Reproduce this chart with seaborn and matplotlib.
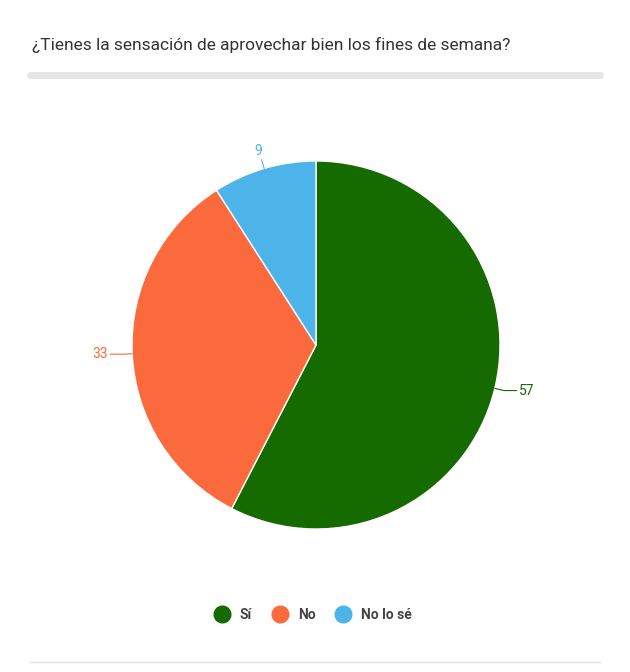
import matplotlib.pyplot as plt
import seaborn as sns
import numpy as np
from matplotlib.lines import Line2D

sns.set_theme(style="white")
plt.rcParams['font.family'] = ['Roboto', 'DejaVu Sans']

title = "¿Tienes la sensación de aprovechar bien los fines de semana?"
labels = ["Sí", "No", "No lo sé"]
values = [57, 33, 9]
colors = ["#156a00", "#fb6a3c", "#4db4ea"]

fig = plt.figure(figsize=(6.3, 6.72), dpi=100)
ax = fig.add_axes([316/630 - 184/630, 1 - (345 + 184)/672, 368/630, 368/672])
wedges, _ = ax.pie(values, colors=colors, startangle=90, counterclock=False,
                   wedgeprops=dict(edgecolor="white", linewidth=1))
ax.set_xlim(-1, 1)
ax.set_ylim(-1, 1)
ax.set_aspect("equal")

# value labels with short leader lines
total = sum(values)
start = 90.0
for v, c in zip(values, colors):
    mid = np.deg2rad(start - v / total * 360 / 2)
    start -= v / total * 360
    x, y = np.cos(mid), np.sin(mid)
    x2, y2 = 1.05 * x, 1.05 * y
    ha = "left" if x > 0 else "right"
    if abs(x) > 0.3:
        x3 = x2 + (0.07 if x > 0 else -0.07)
        ax.plot([x, x2, x3], [y, y2, y2], color=c, lw=0.8, clip_on=False)
        ax.text(x3 + (0.01 if x > 0 else -0.01), y2, str(v), color=c, fontsize=10,
                ha=ha, va="center")
    else:
        ax.plot([x, x2], [y, y2], color=c, lw=0.8, clip_on=False)
        ax.text(x2 - 0.02, y2 + 0.01, str(v), color=c, fontsize=10, ha="center", va="bottom")

fig.text(32/630, 1 - 45/672, title, fontsize=12.5, color="#333333", va="center")
fig.add_artist(Line2D([30/630, 600/630], [1 - 75/672] * 2, color="#e6e6e6", lw=5))
fig.add_artist(Line2D([30/630, 600/630], [1 - 662/672] * 2, color="#e0e0e0", lw=1))

handles = [Line2D([], [], marker="o", ls="", markersize=12, color=c) for c in colors]
fig.legend(handles, labels, loc="center", bbox_to_anchor=(310/630, 1 - 615/672),
           ncol=3, frameon=False, handletextpad=0.3, columnspacing=1.0,
           prop=dict(size=10, weight="bold"), labelcolor="#444444")

fig.savefig("out.png", dpi=100, facecolor="white")
